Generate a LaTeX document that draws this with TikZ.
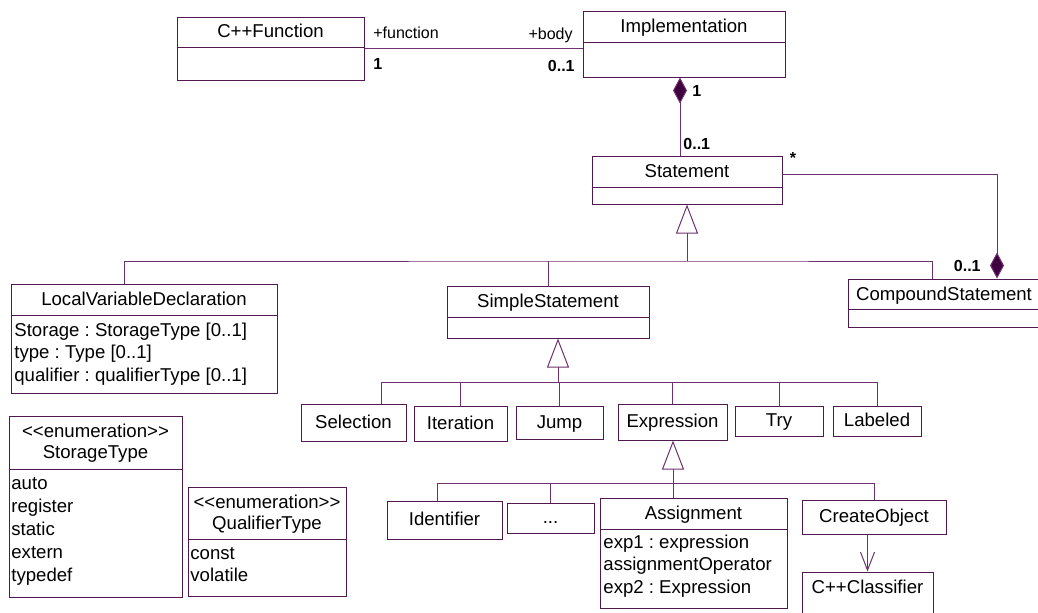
\documentclass[tikz,border=0pt]{standalone}
\usepackage{fontspec}
\newfontfamily\umlfont{Liberation Sans}
\usetikzlibrary{arrows.meta,fit}
\definecolor{umlline}{RGB}{110,50,110}
\definecolor{umlbox}{RGB}{80,25,80}
\definecolor{umlfill}{RGB}{64,0,64}

\begin{document}
\begin{tikzpicture}[x=0.5pt,y=-0.5pt,
  classbox/.style={draw=umlbox,line width=0.5pt,inner sep=0pt},
  divider/.style={draw=umlbox,line width=0.5pt},
  title/.style={inner sep=0pt,font=\umlfont\frenchspacing\fontsize{9.3}{10.5}\selectfont,text height=6.7pt,text depth=1pt},
  enumtitle/.style={inner sep=0pt,align=center,font=\umlfont\fontsize{9.3}{10.6}\selectfont},
  attr/.style={inner sep=0pt,anchor=west,font=\umlfont\frenchspacing\fontsize{9.3}{11}\selectfont,text height=6.7pt,text depth=1pt},
  mult/.style={inner sep=0pt,font=\umlfont\fontsize{8}{9}\selectfont\bfseries},
  role/.style={inner sep=0pt,font=\umlfont\fontsize{8}{9}\selectfont},
  link/.style={draw=umlline,line width=0.5pt},
  gen/.style={link,-{Triangle[open,length=14.5pt,width=11pt,fill=white]}},
  comp/.style={link,-{Diamond[length=13pt,width=7pt,fill=umlfill]}},
  dep/.style={link,-{Straight Barb[length=9pt,width=7pt]}}]
\useasboundingbox (0,0) rectangle (1038,612);

% class boxes
\foreach \n/\l/\t/\r/\b in {cppfun/177/17/364/80, impl/583/11/785/77,
   stmt/592/156/782/204, lvd/11/284/277/393, simple/447/286/649/338,
   comp/848/279/1040/327, sel/301/404/406/441, iter/414/406/507/441,
   jump/516/406/603/439, expr/618/404/727/440, try/735/406/823/436,
   lab/833/406/921/436, ident/387/501/502/539, dots/507/503/594/533,
   assign/600/498/787/608, create/802/500/946/534, cppcls/802/572/933/650,
   stype/9/416/182/597, qtype/188/487/346/596} {
   \node[classbox,fit={(\l,\t) (\r,\b)}] (\n) {};
}
\foreach \n/\y in {cppfun/47, impl/42, stmt/187, lvd/315, simple/317,
   comp/309, assign/529, stype/469, qtype/539} {
   \draw[divider] (\n.west |- 0,\y) -- (\n.east |- 0,\y);
}

% titles
\node[title] at (cppfun.north |- 0,32) {C++Function};
\node[title] at (impl.north |- 0,26.5) {Implementation};
\node[title] at (stmt.north |- 0,172) {Statement};
\node[title] at (lvd.north |- 0,300) {LocalVariableDeclaration};
\node[title] at (simple.north |- 0,302) {SimpleStatement};
\node[title] at (comp.north |- 0,294.5) {CompoundStatement};
\node[title] at (assign.north |- 0,514) {Assignment};
\node[title] at (cppcls.north |- 0,587.5) {C++Classifier};
\foreach \n/\txt in {sel/Selection, iter/Iteration, jump/Jump, expr/Expression,
   try/Try, lab/Labeled, ident/Identifier, create/CreateObject} {
   \node[title] at (\n) {\txt};
}
\node[title] at (dots) {...};
\node[enumtitle] at (stype.north |- 0,443) {<<enumeration>>\\StorageType};
\node[enumtitle] at (qtype.north |- 0,514) {<<enumeration>>\\QualifierType};

% attributes
\foreach \txt [count=\i] in {Storage : StorageType [0..1], type : Type [0..1],
   qualifier : qualifierType [0..1]} {
   \node[attr] at (14,330.5+22.5*\i-22.5) {\txt};
}
\foreach \txt [count=\i] in {exp1 : expression, assignmentOperator, exp2 : Expression} {
   \node[attr] at (603,542.5+22.5*\i-22.5) {\txt};
}
\foreach \txt [count=\i] in {auto, register, static, extern, typedef} {
   \node[attr] at (11,483.5+23*\i-23) {\txt};
}
\foreach \txt [count=\i] in {const, volatile} {
   \node[attr] at (190,553.5+22*\i-22) {\txt};
}

% association and compositions
\draw[link] (cppfun.east) -- (cppfun.east -| impl.west);
\node[role,anchor=west] at (373,33) {+function};
\node[mult,anchor=west] at (373,64) {1};
\node[role,anchor=east] at (573,35) {+body};
\node[mult,anchor=east] at (575,66) {0..1};
\draw[comp] (stmt.north -| 680,0) -- (impl.south -| 680,0);
\node[mult,anchor=west] at (692,91) {1};
\node[mult,anchor=west] at (683,144) {0..1};
\draw[comp] ([yshift=3pt]stmt.east) -| (comp.north -| 997,0);
\node[mult] at (793,157.5) {*};
\node[mult,anchor=east] at (981,266) {0..1};

% generalizations
\coordinate (stmtbar) at (687,261);
\draw[gen] (stmtbar) -- (stmt.south);
\draw[link] ([xshift=-10pt]lvd.north) |- (stmtbar) -| ([xshift=-6pt]comp.north);
\draw[link] (simple.north) -- (simple.north |- stmtbar);

\coordinate (simplebar) at (558,382);
\draw[gen] (simplebar) -- (simplebar |- simple.south);
\draw[link] ([xshift=13.75pt]sel.north) |- (simplebar) -| (lab.north);
\foreach \c in {iter,jump,expr,try} {
   \draw[link] (\c.north) -- (\c.north |- simplebar);
}

\coordinate (exprbar) at (673,483);
\draw[gen] (exprbar |- assign.north) -- (exprbar |- expr.south);
\draw[link] ([xshift=-3.75pt]ident.north) |- (exprbar) -| (create.north);
\draw[link] (dots.north) -- (dots.north |- exprbar);

% dependency
\draw[dep] (cppcls.north |- create.south) -- (cppcls.north);
\end{tikzpicture}
\end{document}
